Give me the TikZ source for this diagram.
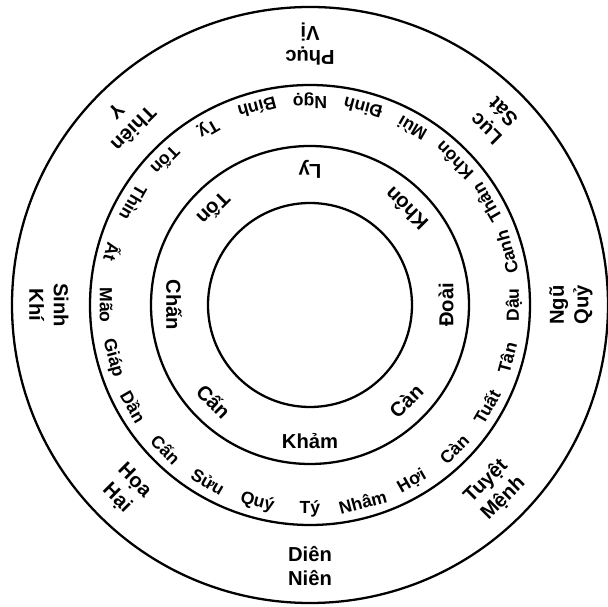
\documentclass[tikz,border=0pt]{standalone}
\usepackage{fontspec}
\setmainfont{Liberation Sans}
\begin{document}
\begin{tikzpicture}[x=0.02cm,y=0.02cm,
  ring/.style={line width=1.3pt},
  outerlbl/.style={font=\bfseries\fontsize{11.5}{14}\selectfont, align=center, inner sep=0pt},
  mtnlbl/.style={font=\bfseries\fontsize{10}{12}\selectfont, inner sep=0pt},
  trilbl/.style={font=\bfseries\fontsize{11.5}{14}\selectfont, inner sep=0pt}]
\useasboundingbox (-310,-302) rectangle (298,305);
\coordinate (O) at (0,0);
\draw[ring] (O) circle (298);
\draw[ring] (O) circle (220);
\draw[ring] (O) circle (159);
\draw[ring] (O) circle (102);
% outer ring
\foreach \a/\t/\n in {90/{Phục\\Vị}/pv, 45/{Lục\\Sát}/ls, 0/{Ngũ\\Quỷ}/nq, -45/{Tuyệt\\Mệnh}/tm,
  -90/{Diên\\Niên}/dn, -135/{Họa\\Hại}/hh, 180/{Sinh\\Khí}/sk, 135/{Thiên\\Y}/ty}
  \node[outerlbl, rotate=\a+90] (\n) at (\a:261) {\t};
% middle ring: 24 mountains
\foreach \a/\t/\n in {-90/Tý/m1, -105/Quý/m2, -120/Sửu/m3, -135/Cấn/m4, -150/Dần/m5, -165/Giáp/m6,
  180/Mão/m7, 165/Ất/m8, 150/Thìn/m9, 135/Tốn/m10, 120/Tỵ/m11, 105/Bính/m12,
  90/Ngọ/m13, 75/Đinh/m14, 60/Mùi/m15, 45/Khôn/m16, 30/Thân/m17, 15/Canh/m18,
  0/Dậu/m19, -15/Tân/m20, -30/Tuất/m21, -45/Càn/m22, -60/Hợi/m23, -75/Nhâm/m24}
  \node[mtnlbl, rotate=\a+90] (\n) at (\a:204) {\t};
% inner ring: 8 trigrams
\foreach \a/\t/\n in {90/Ly/t1, 45/Khôn/t2, 0/Đoài/t3, -45/Càn/t4, -90/Khảm/t5,
  -135/Cấn/t6, 180/Chấn/t7, 135/Tốn/t8}
  \node[trilbl, rotate=\a+90] (\n) at (\a:136) {\t};
\end{tikzpicture}
\end{document}
